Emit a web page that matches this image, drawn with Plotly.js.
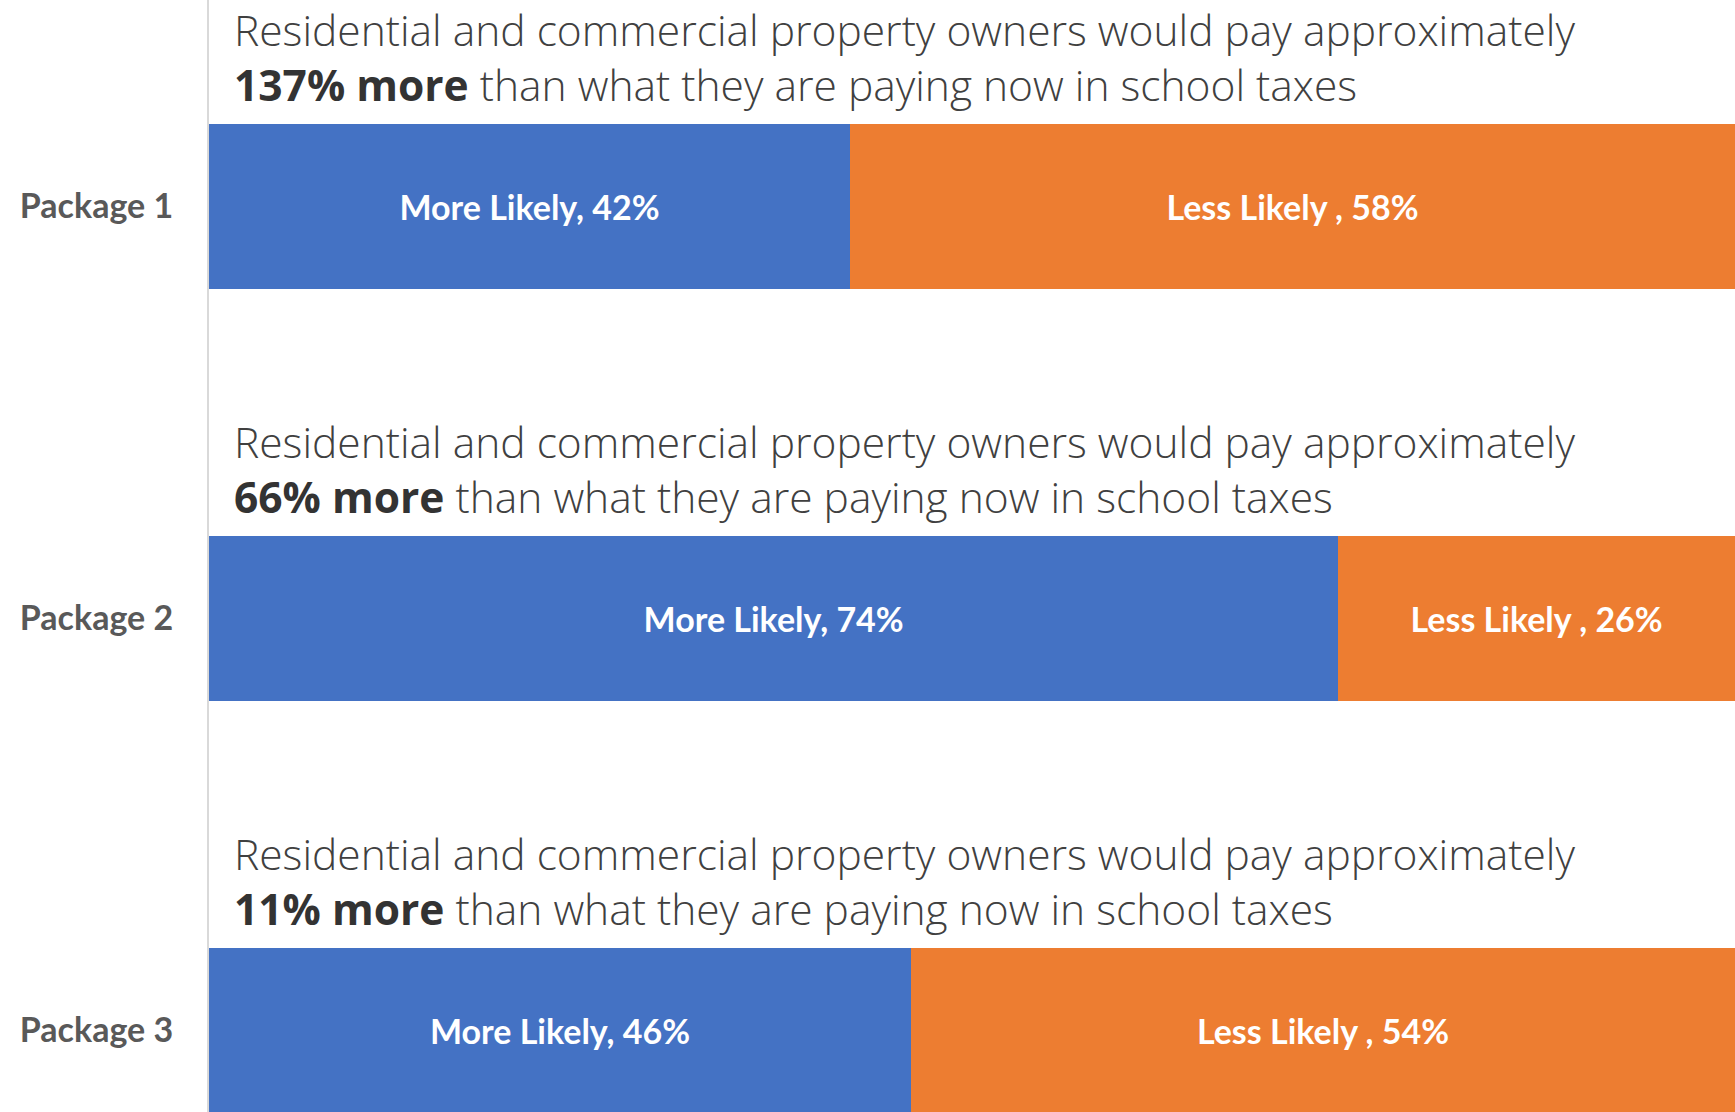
<!DOCTYPE html>
<html>
<head>
<meta charset="utf-8">
<script src="https://cdn.plot.ly/plotly-3.0.1.min.js"></script>
<style>html,body{margin:0;padding:0;background:#fff;}#chart{width:1735px;height:1112px;}</style>
</head>
<body>
<div id="chart"></div>
<script>
// ---- data ----
const categories = ['Package 1', 'Package 2', 'Package 3'];
const moreName = 'More Likely';
const lessName = 'Less Likely ';
const moreLikely = [42, 74, 46];
const lessLikely = [58, 26, 54];
const increasePct = ['137% more', '66% more', '11% more'];
const descLine1 = 'Residential and commercial property owners would pay approximately';
const descLine2 = ' than what they are paying now in school taxes';

const labelFont = {family: 'Lato, "Open Sans", sans-serif', size: 34, color: '#ffffff', weight: 700};

const traces = [
  {
    type: 'bar', orientation: 'h', name: moreName,
    y: categories, x: moreLikely,
    text: moreLikely.map(v => moreName + ', ' + v + '%'),
    textposition: 'inside', insidetextanchor: 'middle', textangle: 0,
    textfont: labelFont, constraintext: 'none',
    marker: {color: '#4472C4', line: {width: 0}},
    hoverinfo: 'skip'
  },
  {
    type: 'bar', orientation: 'h', name: lessName,
    y: categories, x: lessLikely,
    text: lessLikely.map(v => lessName + ', ' + v + '%'),
    textposition: 'inside', insidetextanchor: 'middle', textangle: 0,
    textfont: labelFont, constraintext: 'none',
    marker: {color: '#ED7D31', line: {width: 0}},
    hoverinfo: 'skip'
  }
];

const descFont = {family: '"Open Sans", Roboto, sans-serif', size: 42.5, color: '#404040', weight: 300};
const annotations = categories.map((c, i) => ({
  xref: 'paper', yref: 'y', x: 0, y: i - 0.3628,
  xanchor: 'left', yanchor: 'middle', xshift: 23, align: 'left',
  showarrow: false,
  text: descLine1 + '<br><span style="font-weight:700;color:#333333">' + increasePct[i] + '</span>' + descLine2,
  font: descFont
}));

const layout = {
  width: 1735, height: 1112,
  margin: {l: 209, r: 0, t: 0, b: 0, pad: 0},
  paper_bgcolor: '#ffffff', plot_bgcolor: '#ffffff',
  barmode: 'stack', bargap: 0.6,
  showlegend: false,
  xaxis: {range: [0, 100], visible: false, fixedrange: true},
  yaxis: {
    type: 'category', range: [2.198, -0.501],
    showline: true, linecolor: '#d9d9d9', linewidth: 2,
    showgrid: false, zeroline: false, ticks: '',
    ticklabelstandoff: 27,
    tickfont: {family: 'Lato, "Open Sans", sans-serif', size: 34, color: '#595959', weight: 700},
    fixedrange: true
  },
  annotations: annotations
};

Plotly.newPlot('chart', traces, layout, {displayModeBar: false, staticPlot: true});
</script>
</body>
</html>
